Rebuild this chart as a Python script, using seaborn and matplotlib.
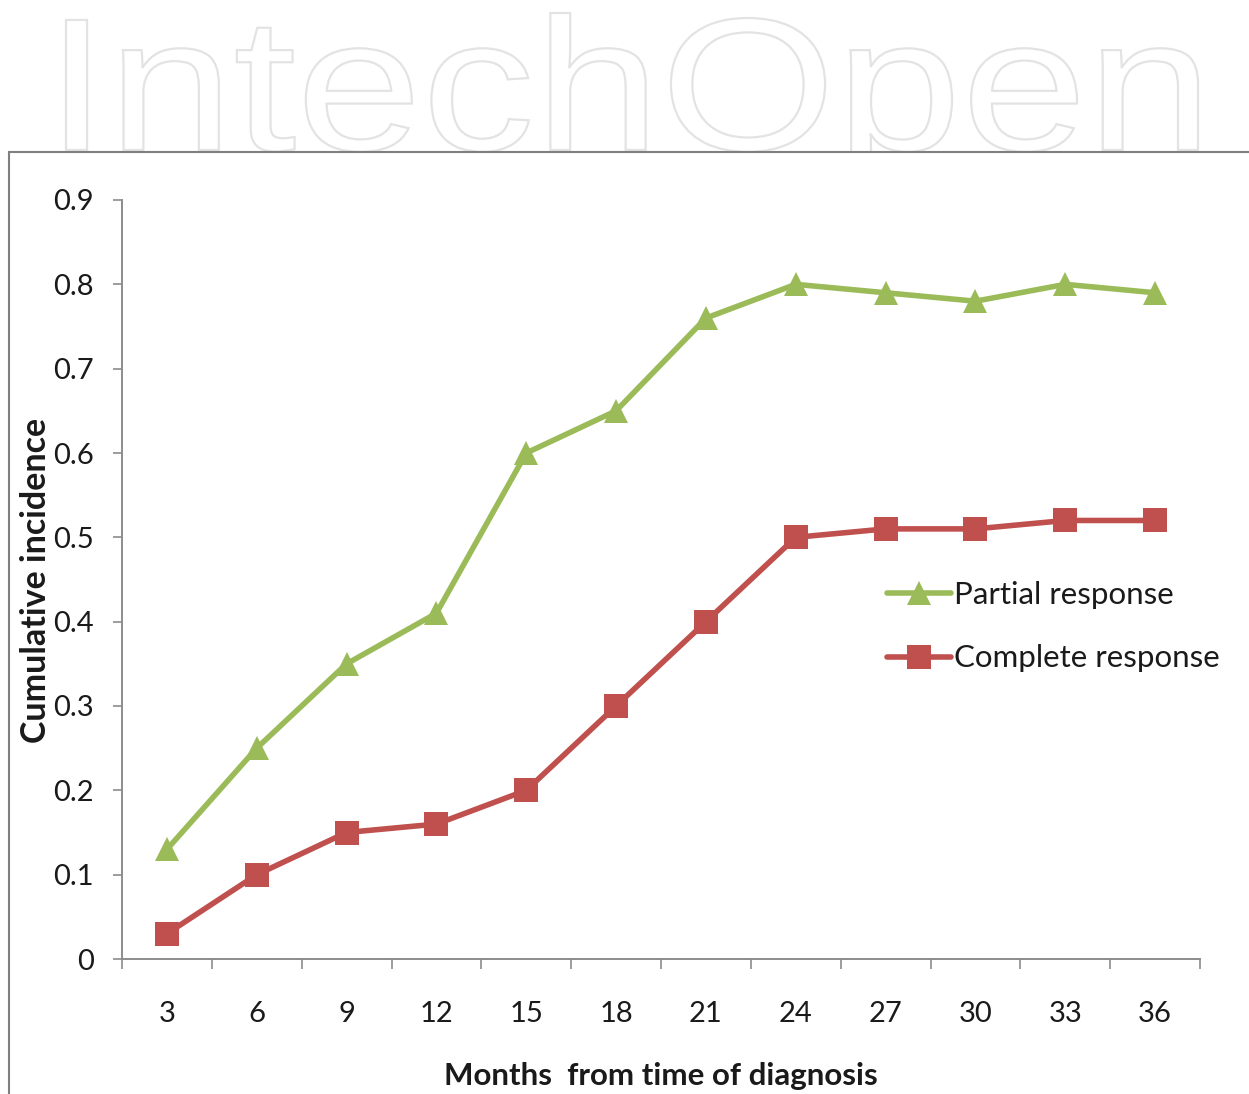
import numpy as np
import pandas as pd
import matplotlib
matplotlib.use("Agg")
import matplotlib.pyplot as plt
import seaborn as sns
from matplotlib.textpath import TextPath
from matplotlib.patches import PathPatch, Rectangle
from matplotlib.font_manager import FontProperties
from matplotlib.transforms import Affine2D, IdentityTransform

months = [3, 6, 9, 12, 15, 18, 21, 24, 27, 30, 33, 36]
partial = [0.13, 0.25, 0.35, 0.41, 0.60, 0.65, 0.76, 0.80, 0.79, 0.78, 0.80, 0.79]
complete = [0.03, 0.10, 0.15, 0.16, 0.20, 0.30, 0.40, 0.50, 0.51, 0.51, 0.52, 0.52]
series_names = ["Partial response", "Complete response"]
y_ticks = [0, 0.1, 0.2, 0.3, 0.4, 0.5, 0.6, 0.7, 0.8, 0.9]
y_tick_labels = ["0", "0.1", "0.2", "0.3", "0.4", "0.5", "0.6", "0.7", "0.8", "0.9"]

df = pd.DataFrame({
    "Month": months * 2,
    "Value": partial + complete,
    "Series": [series_names[0]] * len(months) + [series_names[1]] * len(months),
})

sns.set_theme(style="white")
plt.rcParams["font.family"] = ["Lato", "DejaVu Sans"]

W, H = 1249, 1094
fig = plt.figure(figsize=(W / 100, H / 100), dpi=100)

# watermark
fp = FontProperties(family="Liberation Sans")
tp = TextPath((0, 0), "IntechOpen", size=1, prop=fp)
ext = tp.get_extents()
x0, x1 = 66, 1198
cap_top = 138
base_y = H - 150
sx = (x1 - x0) / ext.width
sy = cap_top / 0.73
tr = Affine2D().translate(-ext.x0, 0).scale(sx, sy).translate(x0, base_y)
wm = PathPatch(tr.transform_path(tp), facecolor="white", edgecolor="#e3e3e3",
               lw=1.6, transform=IdentityTransform(), zorder=-3)
fig.patches.append(wm)

# white area + frame
fig.patches.append(Rectangle((0, -20), W + 20, H - 152 + 20, facecolor="white",
                             edgecolor="none", transform=IdentityTransform(), zorder=-2))
fig.patches.append(Rectangle((9, -20), W + 20, H - 152 + 20, facecolor="none",
                             edgecolor="#7f7f7f", lw=1.5, transform=IdentityTransform(), zorder=-1))

ax = fig.add_axes([122 / W, 1 - 959 / H, (1200 - 122) / W, (959 - 200) / H])
ax.set_facecolor("none")

palette = {series_names[0]: "#9BBB59", series_names[1]: "#C0504D"}
markers = {series_names[0]: "^", series_names[1]: "s"}
sns.lineplot(data=df, x="Month", y="Value", hue="Series", style="Series",
             palette=palette, markers=markers, dashes=False, lw=4.0,
             markersize=17, markeredgewidth=0, ax=ax)

ax.set_xlim(months[0] - 1.5, months[-1] + 1.5)
ax.set_ylim(0, 0.9)
ax.set_yticks(y_ticks)
ax.set_yticklabels(y_tick_labels)
bounds = [m - 1.5 for m in months] + [months[-1] + 1.5]
ax.set_xticks(bounds)
ax.set_xticklabels([""] * len(bounds))
ax.set_xticks(months, minor=True)
ax.set_xticklabels([str(m) for m in months], minor=True)

for s in ["top", "right"]:
    ax.spines[s].set_visible(False)
for s in ["left", "bottom"]:
    ax.spines[s].set_color("#8c8c8c")
    ax.spines[s].set_linewidth(1.4)

ax.tick_params(axis="y", which="major", direction="out", length=6.5, width=1.2,
               color="#8c8c8c", left=True, labelsize=21, pad=14, labelcolor="#1a1a1a")
ax.tick_params(axis="x", which="major", direction="out", length=7, width=1.2,
               color="#8c8c8c", bottom=True)
ax.tick_params(axis="x", which="minor", length=0, labelsize=21, pad=30,
               labelcolor="#1a1a1a")

ax.set_xlabel("Months  from time of diagnosis", fontsize=22.5, fontweight="bold",
              color="#1a1a1a")
ax.xaxis.set_label_coords(0.5, -(1076 - 959) / (959 - 200), transform=ax.transAxes)
ax.xaxis.label.set_va("center")
ax.set_ylabel("Cumulative incidence", fontsize=24.5, fontweight="bold",
              color="#1a1a1a")
ax.yaxis.set_label_coords(-(122 - 36) / (1200 - 122), (959 - 580) / (959 - 200))
ax.yaxis.label.set_va("center")

leg = ax.legend(loc="center left",
                bbox_to_anchor=((887 - 122) / (1200 - 122), (959 - 626.5) / (959 - 200)),
                frameon=False, fontsize=22.5, handlelength=2.05, handletextpad=0.1,
                labelspacing=1.15, borderaxespad=0, borderpad=0)
for t in leg.get_texts():
    t.set_color("#1a1a1a")

fig.savefig("out.png", dpi=100)
